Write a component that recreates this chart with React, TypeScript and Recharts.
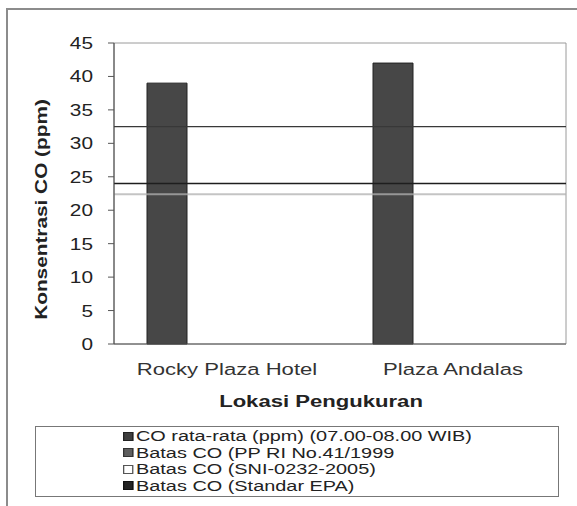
import { BarChart, Bar, XAxis, YAxis, ReferenceLine, ReferenceArea, Label } from 'recharts';

const categories = ['Rocky Plaza Hotel', 'Plaza Andalas'];
const coRataRata = [39, 42];
const limitNames = ['Batas CO (PP RI No.41/1999', 'Batas CO (SNI-0232-2005)', 'Batas CO (Standar EPA)'];
const limitValues = [32.5, 22.4, 24];
const seriesName = 'CO rata-rata (ppm) (07.00-08.00 WIB)';
const yTicks = [0, 5, 10, 15, 20, 25, 30, 35, 40, 45];

const FONT = '"Liberation Sans", Arial, sans-serif';
const SX = 1.3; // the original picture is stretched sideways

const limitStyles = [
  { stroke: '#383838', width: 1.3, opacity: 1 },
  { stroke: '#b0b0b0', width: 2, opacity: 0.75 },
  { stroke: '#1e1e1e', width: 1.6, opacity: 1 },
];
const legendSwatches = [
  { fill: '#3e3e3e', border: '#222' },
  { fill: '#5e5e5e', border: '#333' },
  { fill: '#ffffff', border: '#555' },
  { fill: '#232323', border: '#111' },
];

const data = categories.map((name, i) => ({ name, co: coRataRata[i] }));

function YTick({ x, y, payload }: any) {
  return (
    <text transform={`translate(${x - 13},${y + 6}) scale(${SX},1)`} textAnchor="end"
      fontSize={16} fontFamily={FONT} fill="#222">
      {payload.value}
    </text>
  );
}

function XTick({ x, y, payload }: any) {
  return (
    <text transform={`translate(${x},${y + 23}) scale(${SX},1)`} textAnchor="middle"
      fontSize={17} fontFamily={FONT} fill="#333">
      {payload.value}
    </text>
  );
}

function YTitle({ viewBox }: any) {
  const cx = viewBox.x - 7;
  const cy = viewBox.y + viewBox.height / 2 + 16;
  return (
    <text transform={`translate(${cx},${cy}) rotate(-90) scale(${SX},1)`} textAnchor="middle"
      fontSize={16} fontWeight="bold" fontFamily={FONT} fill="#222">
      Konsentrasi CO (ppm)
    </text>
  );
}

function XTitle({ viewBox }: any) {
  const cx = viewBox.x + viewBox.width / 2 - 19;
  const cy = viewBox.y + 63;
  return (
    <text transform={`translate(${cx},${cy}) scale(${SX},1)`} textAnchor="middle"
      fontSize={17} fontWeight="bold" fontFamily={FONT} fill="#222">
      Lokasi Pengukuran
    </text>
  );
}

function LegendBox() {
  const labels = [seriesName, ...limitNames];
  return (
    <div style={{
      position: 'absolute', left: 35, top: 426, width: 524, height: 71,
      boxSizing: 'border-box', border: '1px solid #777', paddingTop: 1,
      fontFamily: FONT, fontSize: 15.3, color: '#222',
    }}>
      {labels.map((label, i) => (
        <div key={label} style={{
          height: 16.5, lineHeight: '16.5px', whiteSpace: 'nowrap',
          marginLeft: 87, transform: `scaleX(${SX})`, transformOrigin: 'left center',
          display: 'flex', alignItems: 'center',
        }}>
          <span style={{
            display: 'inline-block', width: 6, height: 7, marginRight: 2,
            background: legendSwatches[i].fill, border: `1px solid ${legendSwatches[i].border}`,
          }} />
          <span>{label}</span>
        </div>
      ))}
    </div>
  );
}

export default function App() {
  return (
    <div style={{ position: 'absolute', left: 0, top: 0, width: 577, height: 506, background: '#fff', overflow: 'hidden' }}>
      <div style={{
        position: 'absolute', left: 6, top: 8, width: 571, height: 498, boxSizing: 'border-box',
        borderLeft: '2px solid #8c8c8c', borderTop: '2px solid #8c8c8c',
      }} />
      <BarChart
        width={577}
        height={506}
        data={data}
        margin={{ top: 43, right: 11, left: 54, bottom: 92 }}
        barSize={40}
        barGap={0}
        style={{ position: 'absolute', left: 0, top: 0 }}
      >
        <XAxis dataKey="name" height={70} tickLine={false} interval={0} tick={<XTick />}
          axisLine={{ stroke: '#555' }}>
          <Label content={<XTitle />} />
        </XAxis>
        <YAxis domain={[0, 45]} ticks={yTicks} interval={0} width={60} tickSize={6}
          tickLine={{ stroke: '#555' }} axisLine={{ stroke: '#444' }} tick={<YTick />}>
          <Label content={<YTitle />} />
        </YAxis>
        <ReferenceArea y1={0} y2={45} fill="none" stroke="#9a9a9a" strokeWidth={1} />
        <Bar dataKey="co" name={seriesName} fill="#474747" stroke="#222" strokeWidth={1} isAnimationActive={false} />
        {limitNames.map((n, i) => (
          <Bar key={n} dataKey={`slot${i}`} name={n} fill="none" isAnimationActive={false} />
        ))}
        {limitValues.map((v, i) => (
          <ReferenceLine key={limitNames[i]} y={v} stroke={limitStyles[i].stroke}
            strokeWidth={limitStyles[i].width} strokeOpacity={limitStyles[i].opacity} />
        ))}
      </BarChart>
      <LegendBox />
    </div>
  );
}
